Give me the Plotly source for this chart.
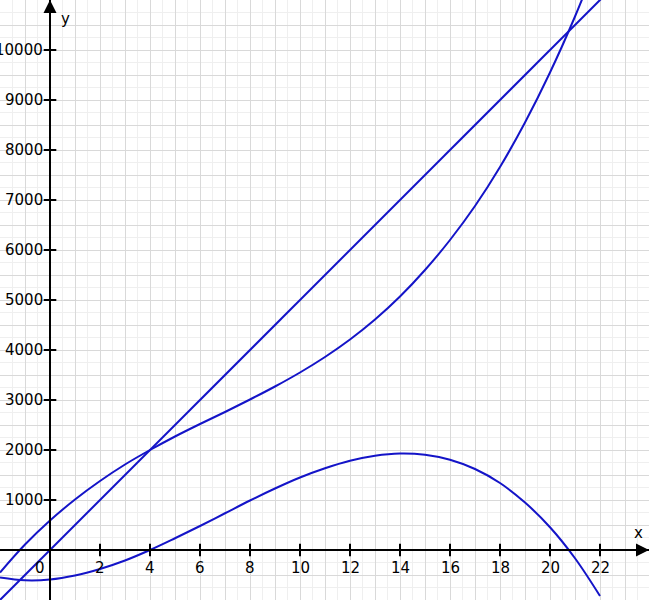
import plotly.graph_objects as go

# Data
x_vals = [-2, -1, 0, 1, 2, 3, 4, 5, 6, 7, 8, 9, 10, 11, 12, 13, 14, 15, 16, 17, 18, 19, 20, 21, 22]
cost = [-450, 110, 590, 1010, 1380, 1710, 2000, 2270, 2520, 2760, 3010, 3270, 3550, 3860, 4210,
        4610, 5070, 5600, 6200, 6880, 7660, 8550, 9550, 10670, 11920]
profit = [-550, -605, -590, -510, -380, -210, 0, 235, 480, 735, 990, 1230, 1450, 1635, 1785,
          1885, 1930, 1905, 1805, 1620, 1340, 950, 455, -165, -920]
revenue_x = [-2, 24]
revenue = [-1000, 12000]

x_ticks = [2, 4, 6, 8, 10, 12, 14, 16, 18, 20, 22]
x_tick_labels = ["2", "4", "6", "8", "10", "12", "14", "16", "18", "20", "22"]
y_ticks = [1000, 2000, 3000, 4000, 5000, 6000, 7000, 8000, 9000, 10000]
y_tick_labels = ["1000", "2000", "3000", "4000", "5000", "6000", "7000", "8000", "9000", "10000"]

XMIN, XMAX = -2, 23.96
YMIN, YMAX = -1000, 11000
BLUE = "#1414c8"
FONT = dict(family="DejaVu Sans", size=15, color="black")

fig = go.Figure()

fig.add_trace(go.Scatter(x=revenue_x, y=revenue, mode="lines", line=dict(color=BLUE, width=2), hoverinfo="skip"))
fig.add_trace(go.Scatter(x=x_vals, y=cost, mode="lines", line=dict(color=BLUE, width=2, shape="spline"), hoverinfo="skip"))
fig.add_trace(go.Scatter(x=x_vals, y=profit, mode="lines", line=dict(color=BLUE, width=2, shape="spline"), hoverinfo="skip"))

# axes lines
fig.add_shape(type="line", x0=XMIN, x1=XMAX, y0=0, y1=0, line=dict(color="black", width=2))
fig.add_shape(type="line", x0=0, x1=0, y0=YMIN, y1=YMAX, line=dict(color="black", width=2))

# tick marks
fig.add_trace(go.Scatter(x=x_ticks, y=[0] * len(x_ticks), mode="markers",
                         marker=dict(symbol="line-ns-open", size=9, color="black",
                                     line=dict(color="black", width=2)),
                         hoverinfo="skip"))
fig.add_trace(go.Scatter(x=[0] * len(y_ticks), y=y_ticks, mode="markers",
                         marker=dict(symbol="line-ew-open", size=9, color="black",
                                     line=dict(color="black", width=2)),
                         hoverinfo="skip"))

# arrow heads
fig.add_annotation(x=0, y=YMAX, ax=0, ay=YMAX - 600, xref="x", yref="y", axref="x", ayref="y",
                   showarrow=True, arrowhead=2, arrowsize=1.3, arrowwidth=2, arrowcolor="black", text="")
fig.add_annotation(x=XMAX, y=0, ax=XMAX - 0.6, ay=0, xref="x", yref="y", axref="x", ayref="y",
                   showarrow=True, arrowhead=2, arrowsize=1.3, arrowwidth=2, arrowcolor="black", text="")

# tick labels
for xv, lab in zip(x_ticks, x_tick_labels):
    fig.add_annotation(x=xv, y=0, text=lab, showarrow=False, xanchor="center", yanchor="top",
                       yshift=-7, font=FONT)
fig.add_annotation(x=0, y=0, text="0", showarrow=False, xanchor="right", yanchor="top",
                   xshift=-3, yshift=-7, font=FONT)
for yv, lab in zip(y_ticks, y_tick_labels):
    fig.add_annotation(x=0, y=yv, text=lab, showarrow=False, xanchor="right", yanchor="middle",
                       xshift=-5, font=FONT)

fig.add_annotation(x=23.55, y=350, text="x", showarrow=False, font=FONT)
fig.add_annotation(x=0.6, y=10620, text="y", showarrow=False, font=FONT)

fig.update_layout(
    width=649, height=600,
    margin=dict(l=0, r=0, t=0, b=0),
    paper_bgcolor="white", plot_bgcolor="white",
    showlegend=False,
    xaxis=dict(range=[XMIN, XMAX], showticklabels=False, zeroline=False, showline=False,
               dtick=1, tick0=0, gridcolor="#d9d9d9", gridwidth=1,
               minor=dict(dtick=0.5, tick0=0, showgrid=True, gridcolor="#efefef", gridwidth=1),
               fixedrange=True),
    yaxis=dict(range=[YMIN, YMAX], showticklabels=False, zeroline=False, showline=False,
               dtick=500, tick0=0, gridcolor="#d9d9d9", gridwidth=1,
               minor=dict(dtick=250, tick0=0, showgrid=True, gridcolor="#efefef", gridwidth=1),
               fixedrange=True),
)

fig.write_html("out.html", config={"displayModeBar": False},
               post_script="document.body.style.margin='0';document.body.style.overflow='hidden';")
